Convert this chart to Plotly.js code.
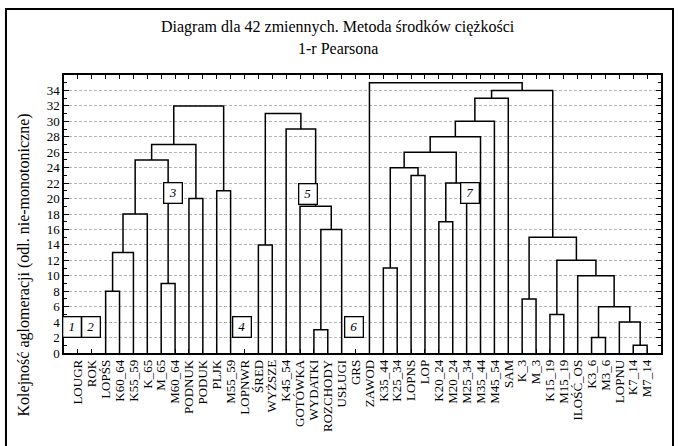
<!DOCTYPE html>
<html><head><meta charset="utf-8">
<script src="https://cdn.plot.ly/plotly-3.0.1.min.js"></script>
<style>html,body{margin:0;padding:0;background:#fff}</style>
</head><body><div id="chart" style="width:678px;height:446px"></div>
<script>
// Leaf order (x axis categories)
const leafNames = ['LOUGR','ROK','LOPŚS','K60_64','K55_59','K_65','M_65','M60_64','PODNUK','PODUK','PLJK','M55_59','LOPNWR','ŚRED','WYŻSZE','K45_54','GOTÓWKA','WYDATKI','ROZCHODY','USŁUGI','GRS','ZAWOD','K35_44','K25_34','LOPNS','LOP','K20_24','M20_24','M25_34','M35_44','M45_54','SAM','K_3','M_3','K15_19','M15_19','ILOŚĆ_OS','K3_6','M3_6','LOPNU','K7_14','M7_14'];

// Merges: children are leaf names or 'c<n>' (n = index of earlier merge); step = agglomeration order
const mergeLeft  = ['LOPŚS','c0','c1','M_65','c2','PODNUK','c4','PLJK','c6','ŚRED','WYDATKI','c10','GOTÓWKA','K45_54','c9','K35_44','LOPNS','c15','K20_24','c18','c17','c20','c21','c22','K_3','K15_19','K3_6','K7_14','LOPNU','c26','ILOŚĆ_OS','c25','c24','c23','ZAWOD'];
const mergeRight = ['K60_64','K55_59','K_65','M60_64','c3','PODUK','c5','M55_59','c7','WYŻSZE','ROZCHODY','USŁUGI','c11','c12','c13','K25_34','LOP','c16','M20_24','M25_34','c19','M35_44','M45_54','SAM','M_3','M15_19','M3_6','M7_14','c27','c28','c29','c30','c31','c32','c33'];
const mergeStep  = [8,13,18,9,25,20,27,21,32,14,3,16,19,29,31,11,23,24,17,22,26,28,30,33,7,5,2,1,4,6,10,12,15,34,35];

// Group number labels (boxed) and the variable they belong to
const groupText   = ['1','2','3','4','5','6','7'];
const groupLeaf   = ['LOUGR','ROK','M_65','LOPNWR','GOTÓWKA','GRS','M25_34'];
const groupLevel  = [3.4,3.4,20.7,3.4,20.6,3.4,20.7];

const titleLine1 = 'Diagram dla 42 zmiennych. Metoda środków ciężkości';
const titleLine2 = '1-r Pearsona';
const yTitle = 'Kolejność aglomeracji (odl. nie-monotoniczne)';

// ---- build dendrogram segments ----
const nodeX = {}, nodeY = {};
leafNames.forEach((n,i)=>{ nodeX[n]=i+1; nodeY[n]=0; });
const xs=[], ys=[];
mergeStep.forEach((h,i)=>{
  const a=mergeLeft[i], b=mergeRight[i];
  xs.push(nodeX[a],nodeX[a],nodeX[b],nodeX[b],null);
  ys.push(nodeY[a],h,h,nodeY[b],null);
  nodeX['c'+i]=(nodeX[a]+nodeX[b])/2; nodeY['c'+i]=h;
});

const serif = 'Liberation Serif, Times New Roman, serif';
const trace = {x:xs, y:ys, type:'scatter', mode:'lines', line:{color:'#000', width:1.5}, hoverinfo:'skip', showlegend:false};

const groupShift = [-6,-1,11.6,-2.6,8,-1.3,3.5];
const annotations = [
  {xref:'paper', yref:'paper', x:0.459, y:1.173, text:titleLine1, showarrow:false, font:{family:serif, size:16, color:'#000'}, xanchor:'center', yanchor:'middle'},
  {xref:'paper', yref:'paper', x:0.459, y:1.094, text:titleLine2, showarrow:false, font:{family:serif, size:16, color:'#000'}, xanchor:'center', yanchor:'middle'},
  {xref:'paper', yref:'paper', x:-0.067, y:0.315, text:yTitle, textangle:-90, showarrow:false, font:{family:serif, size:16, color:'#000'}, xanchor:'center', yanchor:'middle'}
];
groupText.forEach((t,i)=>{
  annotations.push({x:leafNames.indexOf(groupLeaf[i])+1, y:groupLevel[i], xshift:groupShift[i], text:'<i>'+t+'</i>', showarrow:false,
    font:{family:serif, size:13, color:'#000'}, bgcolor:'#fff', bordercolor:'#000', borderwidth:1.3, borderpad:1, width:15, height:17});
});

const layout = {
  width:678, height:446,
  margin:{l:64, r:17, t:75, b:93},
  paper_bgcolor:'#fff', plot_bgcolor:'#fff',
  font:{family:serif, color:'#000'},
  xaxis:{range:[0,43], tickmode:'array', tickvals:leafNames.map((_,i)=>i+1), ticktext:leafNames, tickangle:-90,
    ticks:'inside', ticklen:4, tickwidth:1, tickcolor:'#000', showline:true, linecolor:'#000', linewidth:1.6, mirror:'ticks',
    showgrid:false, zeroline:false, tickfont:{family:serif, size:13, color:'#000'}},
  yaxis:{range:[0,36], tickmode:'array', tickvals:[0,2,4,6,8,10,12,14,16,18,20,22,24,26,28,30,32,34],
    ticks:'inside', ticklen:5, tickwidth:1, tickcolor:'#000', showline:true, linecolor:'#000', linewidth:1.6, mirror:'ticks',
    showgrid:true, gridcolor:'#b4b4b4', gridwidth:1, griddash:'3px,2px', zeroline:false,
    minor:{tickmode:'linear', tick0:0, dtick:1, ticks:'inside', ticklen:3, tickcolor:'#000', showgrid:false},
    tickfont:{family:serif, size:13, color:'#000'}},
  annotations:annotations,
  shapes:[{type:'rect', xref:'paper', yref:'paper', x0:-0.0972, x1:1.0201, y0:-0.36, y1:1.2374, line:{color:'#000', width:2}, fillcolor:'rgba(0,0,0,0)'}]
};
Plotly.newPlot('chart',[trace],layout,{displayModeBar:false, staticPlot:true});
</script></body></html>
